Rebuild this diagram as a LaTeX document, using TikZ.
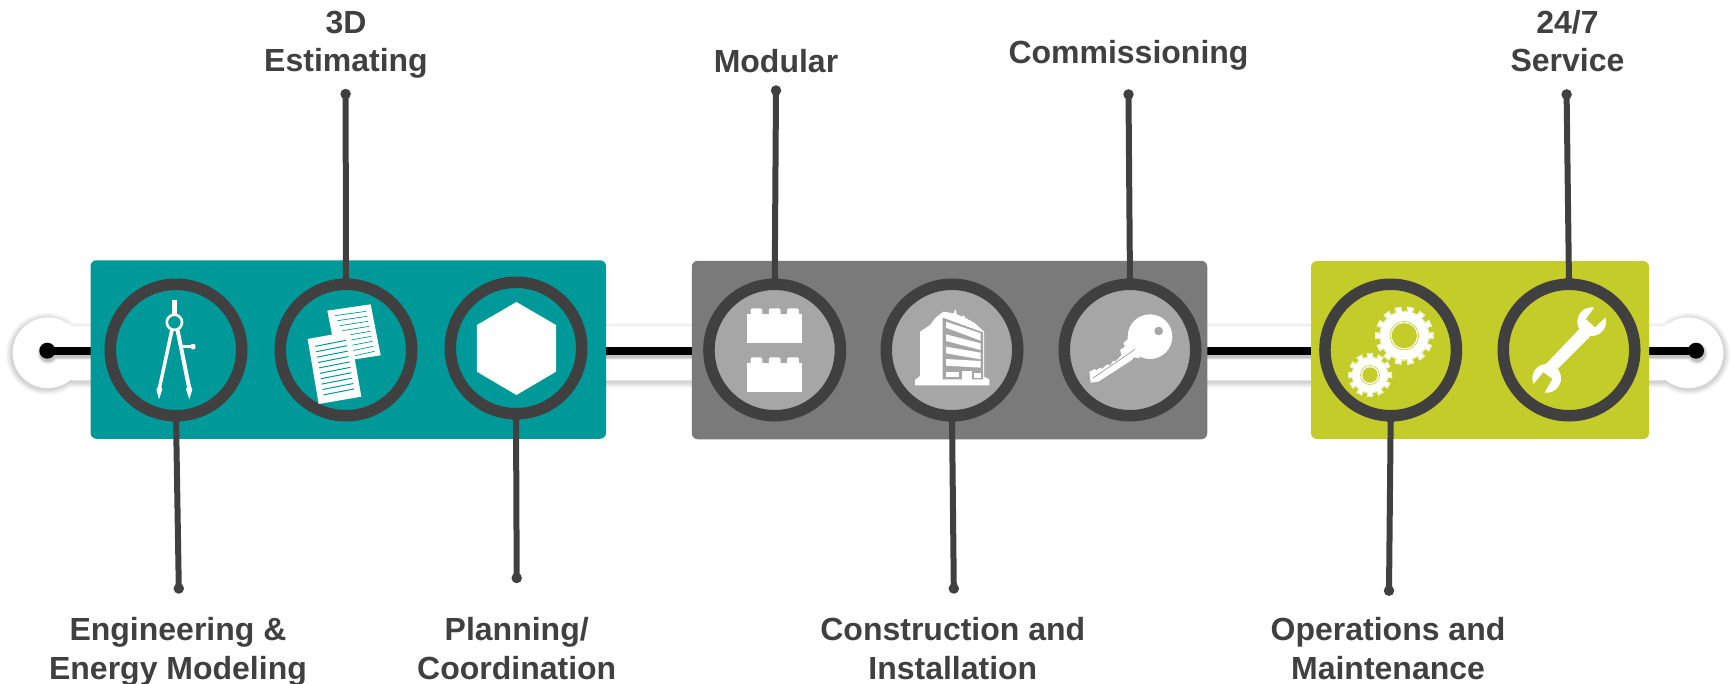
\documentclass[tikz,border=0pt]{standalone}
\usepackage{fontspec}
\setmainfont{Liberation Sans}
\usetikzlibrary{calc}
\definecolor{ink}{HTML}{404040}
\definecolor{teal1}{HTML}{009999}
\definecolor{gray1}{HTML}{7A7A7A}
\definecolor{gray2}{HTML}{A6A6A6}
\definecolor{lime1}{HTML}{C4CC29}
\newcommand{\ls}{\rule[-7pt]{0pt}{32pt}}
\tikzset{
  panel/.style={rounded corners=6pt,line width=0pt},
  ring/.style={circle,draw=ink,line width=11.5pt,minimum size=131.5pt,inner sep=0pt,outer sep=0pt},
  pin/.style={draw=ink,line width=6pt},
  pindot/.style={circle,fill=ink,minimum size=10.5pt,inner sep=0pt,outer sep=0pt},
  enddot/.style={circle,fill=black,minimum size=16pt,inner sep=0pt,outer sep=0pt},
  lab/.style={text=ink,align=center,font=\bfseries\fontsize{32}{38.6}\selectfont,inner sep=0pt},
  labtop/.style={text=ink,align=center,font=\bfseries\fontsize{32}{37.6}\selectfont,inner sep=0pt},
}
\newcommand{\gearshape}[6]{% cx cy ro ri n style
  \foreach \k in {1,...,#5}{
    \pgfmathsetmacro{\ang}{360/#5*\k}
    \pgfmathsetmacro{\da}{360/#5*0.2}
    \path[#6] ($(#1,#2)+(\ang-\da:#3 and #3)$) -- ($(#1,#2)+(\ang+\da:#3 and #3)$) -- ($(#1,#2)+(\ang+\da:#4-2 and #4-2)$) -- ($(#1,#2)+(\ang-\da:#4-2 and #4-2)$) -- cycle;
  }
  \path[#6] (#1,#2) circle[radius=#4];
}
\newcommand{\gearicon}[7]{% cx cy ro ri n hole ringr
  \gearshape{#1}{#2}{#3}{#4}{#5}{draw=white,line width=1.8pt}
  \gearshape{#1}{#2}{#3}{#4}{#5}{draw=lime1,line width=0.45pt}
  \gearshape{#1}{#2}{#3}{#4}{#5}{fill=white}
  \draw[lime1,line width=0.6pt] (#1,#2) circle[radius=#7];
  \fill[lime1] (#1,#2) circle[radius=#6];
}
\begin{document}
\begin{tikzpicture}[x=1pt,y=-1pt]
\useasboundingbox (0,0) rectangle (1731,683);
% band shadow: soft layered halo
\foreach \w/\c in {11/3,9/5,7/8,5/11,3/14,1.5/17}{
  \draw[black!\c!white,line width=\w pt] (60,382) -- (1680,382);
  \draw[black!\c!white,line width=\w pt] (47,354) circle[radius=35.5];
  \draw[black!\c!white,line width=\w pt] (1689,354) circle[radius=35.5];
}
\foreach \w/\c in {6/3,4/5,2/8}{
  \draw[black!\c!white,line width=\w pt] (60,325.5) -- (1680,325.5);
}
\fill[white] (48,352.7) circle[radius=35.3];
\fill[white] (1688,352.7) circle[radius=35.3];
\fill[white] (48,326) rectangle (1688,380);
% axis
\foreach \w/\c in {11/6,9.5/14,8.5/24}{
  \draw[black!\c!white,line width=\w pt] (50,354) -- (1694,354);
  \fill[black!\c!white] (48,353.5) circle[radius=\w];
  \fill[black!\c!white] (1697,353.5) circle[radius=\w];
}
\node[enddot] (endL) at (47.3,350.7) {};
\node[enddot] (endR) at (1696,350.7) {};
\draw[black,line width=8pt] (endL.center) -- (endR.center);
% panels
\node[panel,fill=teal1,minimum width=515.5pt,minimum height=178.5pt,inner sep=0pt] (pA) at (348.25,349.5) {};
\node[panel,fill=gray1,minimum width=515.5pt,minimum height=178.5pt,inner sep=0pt] (pB) at (949.5,350) {};
\node[panel,fill=lime1,minimum width=338pt,minimum height=178pt,inner sep=0pt] (pC) at (1480,350) {};
% rings
\node[ring] (c1) at (176,350) {};
\node[ring] (c2) at (346,350) {};
\node[ring] (c3) at (516,348) {};
\node[ring,fill=gray2] (c4) at (774.7,350) {};
\node[ring,fill=gray2] (c5) at (952,350) {};
\node[ring,fill=gray2] (c6) at (1130,350) {};
\node[ring] (c7) at (1390.7,350) {};
\node[ring] (c8) at (1569,350) {};
% pins
\node[pindot] (d1) at (178.8,588.5) {};
\node[pindot] (d2) at (345.6,94) {};
\node[pindot] (d3) at (516.7,578) {};
\node[pindot] (d4) at (776,90.5) {};
\node[pindot] (d5) at (953.8,588.5) {};
\node[pindot] (d6) at (1128.5,94.4) {};
\node[pindot] (d7) at (1389,590.7) {};
\node[pindot] (d8) at (1566.6,94.4) {};
\foreach \d/\c/\s in {d1/c1/south,d3/c3/south,d5/c5/south,d7/c7/south,d2/c2/north,d4/c4/north,d6/c6/north,d8/c8/north}{
  \draw[pin] (\d.center) -- (\c.\s);
}
\foreach \c in {c2,c4,c6,c8}{\fill[ink] ([yshift=2pt]\c.north) circle[radius=5.5];}
\foreach \c in {c1,c3,c5,c7}{\fill[ink] ([yshift=-2pt]\c.south) circle[radius=5.5];}
% labels
\node[lab] (t1) at (178,651) {\ls Engineering \&\\\ls Energy Modeling};
\node[labtop] (t2) at (346,43.6) {\ls 3D\\\ls Estimating};
\node[lab] (t3) at (516.7,651) {\ls Planning/\\\ls Coordination};
\node[lab] (t4) at (776,63.4) {\ls Modular};
\node[lab] (t5) at (952.8,651) {\ls Construction and\\\ls Installation};
\node[lab] (t6) at (1128.5,54) {\ls Commissioning};
\node[lab] (t7) at (1388,651) {\ls Operations and\\\ls Maintenance};
\node[labtop] (t8) at (1567.5,43.6) {\ls 24/7\\\ls Service};
% compass
\begin{scope}[shift={(130,290)},x=0.3333pt,y=-0.3333pt]
  \fill[white] (125,30) rectangle (141,75);
  \fill[white] (122,112) -- (133,112) -- (94,292) -- (97,298) -- (87,328) -- (79,298) -- (84,290) -- cycle;
  \fill[white] (135,112) -- (147,112) -- (183,290) -- (187,298) -- (178,328) -- (168,298) -- (171,292) -- cycle;
  \fill[white] (155,166) rectangle (185,174);
  \fill[white,rounded corners=1pt] (183,162) rectangle (196,178);
\end{scope}
\draw[white,line width=2.6pt,fill=teal1] (174.4,322.3) circle[radius=7.6];
% papers
\begin{scope}[shift={(270,280)},x=0.3333pt,y=-0.3333pt]
  \fill[white] (172,92) -- (302,73) -- (332,226) -- (202,246) -- cycle;
  \foreach \i in {0,...,8}{
    \draw[teal1,line width=0.7pt] ($(195,107)+\i*(7.5,15)$) -- ($(288,94)+\i*(3.2,15)$);
  }
  \fill[white] (113,177) -- (240,154) -- (274,350) -- (146,372) -- cycle;
  \foreach \i in {0,...,9}{
    \draw[teal1,line width=1pt] ($(136,199)+\i*(2.7,16.2)$) -- ($(228,181)+\i*(2.7,16.2)$);
  }
\end{scope}
% hexagon
\fill[white] (516.4,302) -- (556,325) -- (556,371.7) -- (516.4,395) -- (476.9,371.7) -- (476.9,325) -- cycle;
% bricks
\begin{scope}[shift={(680,250)},x=0.3444pt,y=-0.3333pt]
  \foreach \yy in {0,147}{
    \fill[white] (195,193+\yy) rectangle (355,279+\yy);
    \foreach \xx in {205,258,311}{
      \fill[white,rounded corners=1.5pt] (\xx,175+\yy) rectangle (\xx+34,200+\yy);
    }
  }
\end{scope}
% key
\begin{scope}[shift={(1070,300)},x=0.3333pt,y=-0.3333pt]
  \fill[white] (240,110) circle[radius=67];
  \fill[white] (58,215) -- (75,207) -- (78,212) -- (90,203) -- (95,207) -- (112,193) -- (120,196) -- (130,182) -- (137,184) -- (155,165) -- (150,150) -- (165,140) -- (160,130) -- (180,110) -- (210,175) -- (192,172) -- (183,182) -- (85,245) -- (62,248) -- cycle;
  \fill[gray2] (266,93) circle[radius=13];
  \draw[gray2,line width=0.8pt] (68,235) -- (195,148);
\end{scope}
% building
\begin{scope}[shift={(880,280)},x=0.3333pt,y=-0.3333pt]
  \fill[white] (105,316) -- (105,300) -- (120,288) -- (120,155) -- (150,135) -- (165,115) -- (190,95) -- (222,100) -- (224,90) -- (228,90) -- (230,103) -- (247,110) -- (251,105) -- (255,113) -- (285,130) -- (312,155) -- (312,290) -- (328,298) -- (328,316) -- cycle;
  \fill[gray2] (188,113) -- (309,157) -- (309,298) -- (188,298) -- cycle;
  \fill[white] (198,125) -- (302,160) -- (302,182) -- (198,143) -- cycle;
  \fill[white] (198,163) -- (302,190) -- (302,210) -- (198,183) -- cycle;
  \fill[white] (198,200) -- (302,218) -- (302,238) -- (198,220) -- cycle;
  \fill[white] (198,237) -- (302,243) -- (302,263) -- (198,257) -- cycle;
  \fill[white] (198,276) rectangle (238,290);
  \fill[white] (283,279) rectangle (303,293);
  \fill[white] (247,272) rectangle (277,316);
\end{scope}
% gears
\gearicon{1404.3}{335.7}{28.4}{24}{14}{12.6}{14.2}
\gearicon{1370}{375}{21.2}{17.4}{12}{7.7}{9.5}
% wrench
\begin{scope}[shift={(1510,295)},x=0.3333pt,y=-0.3333pt]
  \fill[white] (210,100) -- (240,125) -- (130,235) -- (105,210) -- cycle;
  \fill[white] (245,80) circle[radius=43];
  \fill[white] (110,250) circle[radius=43];
  \fill[lime1] (255,35) -- (228,72) -- (255,97) -- (290,63) -- (295,30) -- cycle;
  \fill[lime1] (70,268) -- (100,232) -- (127,252) -- (102,295) -- (60,300) -- cycle;
\end{scope}
\end{tikzpicture}
\end{document}
